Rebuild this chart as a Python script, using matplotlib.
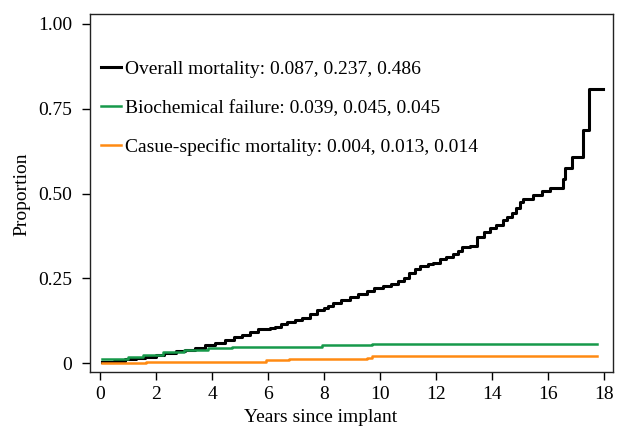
import matplotlib
matplotlib.use("Agg")
import matplotlib.pyplot as plt

plt.rcParams['font.family'] = ['Liberation Serif', 'DejaVu Serif']

# Overall mortality step curve (time, cumulative proportion)
om_t = [0.06, 0.5, 0.9, 1.3, 1.6, 2.0, 2.3, 2.7, 3.04, 3.4, 3.75, 4.1, 4.46, 4.8,
        5.06, 5.35, 5.65, 6.07, 6.25, 6.45, 6.67, 6.95, 7.2, 7.5, 7.74, 8.0, 8.15,
        8.33, 8.6, 8.93, 9.2, 9.52, 9.8, 10.12, 10.4, 10.65, 10.85, 11.05, 11.25,
        11.43, 11.7, 11.9, 12.14, 12.35, 12.62, 12.8, 12.92, 13.2, 13.45, 13.7,
        13.93, 14.15, 14.4, 14.55, 14.7, 14.85, 15.0, 15.12, 15.46, 15.77, 16.07,
        16.52, 16.6, 16.84, 17.24, 17.47, 17.97]
om_y = [0.005, 0.008, 0.012, 0.015, 0.019, 0.025, 0.031, 0.035, 0.039, 0.046, 0.054,
        0.061, 0.069, 0.076, 0.083, 0.092, 0.100, 0.103, 0.108, 0.116, 0.123, 0.127,
        0.132, 0.145, 0.157, 0.163, 0.170, 0.177, 0.185, 0.194, 0.203, 0.213, 0.221,
        0.229, 0.234, 0.242, 0.252, 0.265, 0.277, 0.287, 0.292, 0.296, 0.307, 0.314,
        0.322, 0.330, 0.343, 0.346, 0.371, 0.386, 0.398, 0.408, 0.422, 0.431, 0.442,
        0.458, 0.476, 0.483, 0.496, 0.507, 0.517, 0.542, 0.574, 0.607, 0.687, 0.807,
        0.807]

# Biochemical failure
bf_t = [0.06, 1.01, 1.55, 2.26, 2.98, 3.87, 4.70, 7.92, 9.7, 17.74]
bf_y = [0.012, 0.018, 0.024, 0.032, 0.039, 0.044, 0.049, 0.053, 0.056, 0.056]

# Cause-specific mortality
cs_t = [0.06, 1.63, 5.93, 6.76, 9.52, 9.7, 17.74]
cs_y = [0.0, 0.005, 0.009, 0.013, 0.017, 0.021, 0.021]

labels = ["Overall mortality: 0.087, 0.237, 0.486",
          "Biochemical failure: 0.039, 0.045, 0.045",
          "Casue-specific mortality: 0.004, 0.013, 0.014"]
colors = ["black", "#17994a", "#ff8a12"]

x_ticks = list(range(0, 19, 2))
y_ticks = [0, 0.25, 0.5, 0.75, 1.0]
y_ticklabels = ["0", "0.25", "0.50", "0.75", "1.00"]

W, H = 632, 433
fig = plt.figure(figsize=(W / 100, H / 100), dpi=100)
ax = fig.add_axes([90 / W, 1 - 372 / H, (612.7 - 90) / W, (372 - 14) / H])

ax.step(om_t, om_y, where='post', color=colors[0], lw=2.2, label=labels[0])
ax.step(bf_t, bf_y, where='post', color=colors[1], lw=1.8, label=labels[1])
ax.step(cs_t, cs_y, where='post', color=colors[2], lw=1.8, label=labels[2])

ax.set_xlim(-0.36, 18.31)
ax.set_ylim(-0.0256, 1.0286)
ax.set_xticks(x_ticks)
ax.set_xticklabels([str(v) for v in x_ticks])
ax.set_yticks(y_ticks)
ax.set_yticklabels(y_ticklabels)

fs = 14
ax.tick_params(axis='both', direction='out', length=6, width=1.0, labelsize=fs,
               colors='black')
ax.tick_params(axis='y', pad=7)
ax.tick_params(axis='x', pad=4)
for s in ax.spines.values():
    s.set_linewidth(1.0)
    s.set_color('#222222')

fig.text(321 / W, 1 - 417 / H, "Years since implant", ha='center', va='center',
         fontsize=fs)
fig.text(22 / W, 1 - 194 / H, "Proportion", ha='center', va='center',
         rotation=90, fontsize=fs)

leg = ax.legend(loc='upper left', bbox_to_anchor=(101 / W, 1 - 60 / H),
                bbox_transform=fig.transFigure, frameon=False, fontsize=fs,
                handlelength=1.05, handletextpad=0.2, labelspacing=1.1,
                borderpad=0, borderaxespad=0)

fig.savefig("out.png", dpi=100)
